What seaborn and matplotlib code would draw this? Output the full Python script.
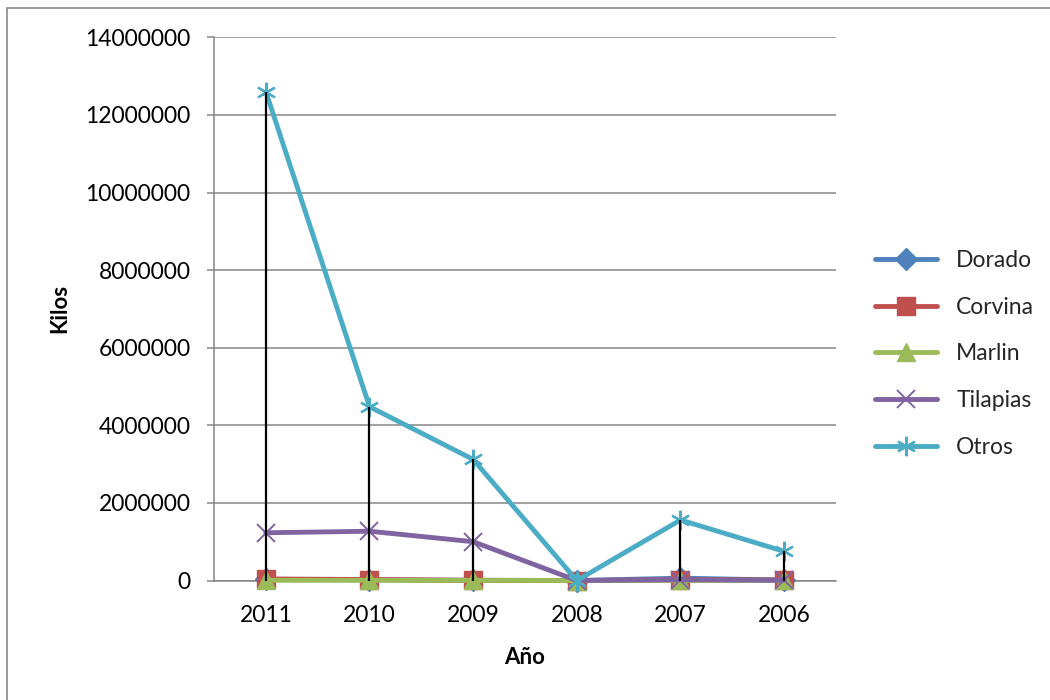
import numpy as np
import pandas as pd
import matplotlib
matplotlib.use("Agg")
import matplotlib.pyplot as plt
from matplotlib.patches import Rectangle
from matplotlib.ticker import FuncFormatter, MultipleLocator
import seaborn as sns

# Catch by species and year (kilos)
years = ["2011", "2010", "2009", "2008", "2007", "2006"]
dorado = [30000, 20000, 5000, 0, 60000, 10000]
corvina = [40000, 25000, 5000, 0, 20000, 15000]
marlin = [5000, 5000, 3000, 0, 3000, 2000]
tilapias = [1230000, 1270000, 1000000, 0, 20000, 5000]
otros = [12600000, 4480000, 3120000, 0, 1560000, 750000]

species = ["Dorado", "Corvina", "Marlin", "Tilapias", "Otros"]
values = [dorado, corvina, marlin, tilapias, otros]
colors = ["#4F81BD", "#C0504D", "#9BBB59", "#8064A2", "#4BACC6"]
markers = ["D", "s", "^", "x", (6, 2, 0)]
msizes = [11, 13, 13, 13, 14]
mews = [1.0, 1.0, 1.0, 1.4, 1.6]

df = pd.DataFrame({
    "pos": np.tile(np.arange(len(years)), len(species)),
    "kilos": np.concatenate(values),
    "especie": np.repeat(species, len(years)),
})

sns.set_theme(style="white")
plt.rcParams["font.family"] = ["Lato", "DejaVu Sans"]

fig = plt.figure(figsize=(10.5, 7), dpi=100)
ax = fig.add_axes([214 / 1050, 1 - 580.5 / 700, (836 - 214) / 1050, (580.5 - 37.3) / 700])

for name, col, mk, ms, mw in zip(species, colors, markers, msizes, mews):
    sub = df[df["especie"] == name]
    sns.lineplot(data=sub, x="pos", y="kilos", ax=ax, color=col, linewidth=3.5,
                 marker=mk, markersize=ms, markeredgecolor=col, markeredgewidth=mw,
                 label=name, clip_on=False, zorder=3)

# Drop lines from the highest series down to the axis
tops = df.groupby("pos")["kilos"].max()
ax.vlines(tops.index, 0, tops.values, colors="black", linewidth=1.6, zorder=5)

ax.set_xlim(-0.5, len(years) - 0.5)
ax.set_ylim(0, 14000000)
ax.yaxis.set_major_locator(MultipleLocator(2000000))
ax.yaxis.set_major_formatter(FuncFormatter(lambda v, p: f"{int(round(v))}"))
ax.set_xticks(np.arange(len(years)))
ax.set_xticklabels(years)

ax.grid(axis="y", color="#868686", linewidth=1.1)
ax.grid(axis="x", visible=False)
for s in ["top", "right"]:
    ax.spines[s].set_visible(False)
for s in ["left", "bottom"]:
    ax.spines[s].set_color("#868686")
    ax.spines[s].set_linewidth(1.1)

ax.tick_params(axis="y", which="major", length=5, width=1.1, color="#868686",
               pad=12, labelsize=16.5, labelcolor="black", left=True)
ax.tick_params(axis="x", length=0, pad=18, labelsize=16.5, labelcolor="black")

ax.set_xlabel("Año", fontsize=16, fontweight="bold", color="black")
ax.set_ylabel("Kilos", fontsize=16, fontweight="bold", color="black")
ax.xaxis.set_label_coords(0.5, -(657 - 580.5) / 543.2)
ax.xaxis.label.set_va("center")
ax.yaxis.set_label_coords(-(214 - 60) / 622, 0.5)
ax.yaxis.label.set_va("center")

leg = ax.legend(loc="center left", bbox_to_anchor=(875 / 1050, 1 - 354 / 700),
                bbox_transform=fig.transFigure, frameon=False, fontsize=16.5,
                handlelength=2.7, handletextpad=0.85, labelspacing=1.13,
                borderpad=0, borderaxespad=0)

# Outer chart frame
fig.add_artist(Rectangle((7 / 1050, -0.05), 1.2, (700 - 8) / 700 + 0.05,
                         transform=fig.transFigure, fill=False,
                         edgecolor="#8a8a8a", linewidth=1.2))

fig.savefig("out.png", dpi=100)
